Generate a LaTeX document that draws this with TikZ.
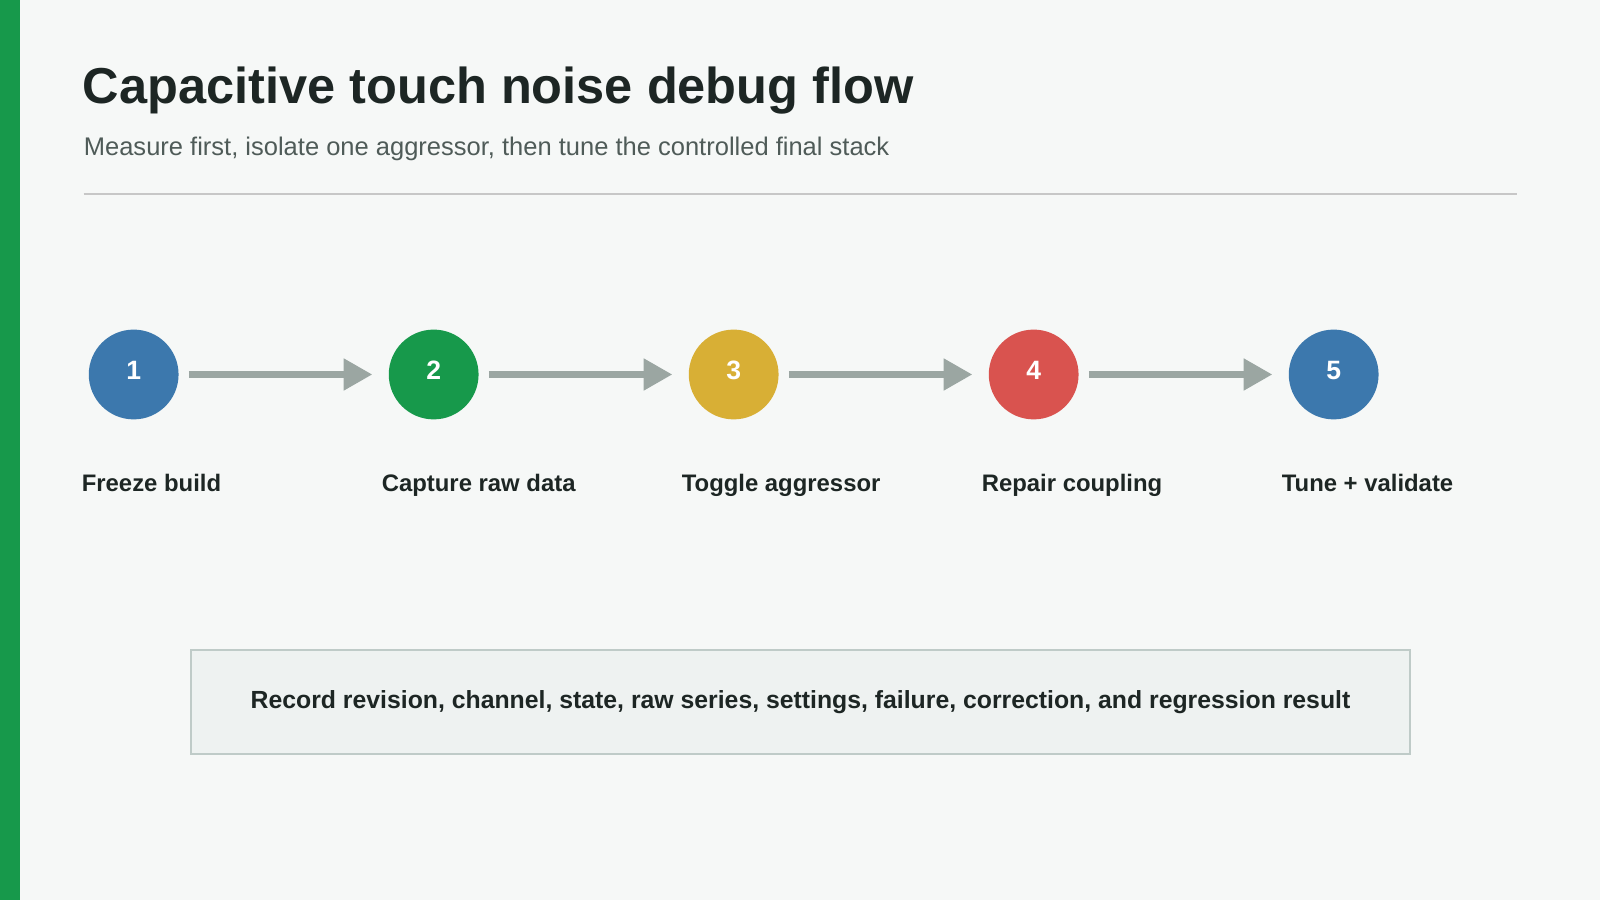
\documentclass[tikz,border=0pt]{standalone}
\usepackage{fontspec}
\setmainfont{Liberation Sans}
\usetikzlibrary{arrows.meta}
\definecolor{bg}{HTML}{F6F8F7}
\definecolor{bar}{HTML}{17994B}
\definecolor{cblue}{HTML}{3C78AD}
\definecolor{cgreen}{HTML}{17994B}
\definecolor{cyellow}{HTML}{D8AF35}
\definecolor{cred}{HTML}{D9534F}
\definecolor{arr}{HTML}{9BA6A2}
\definecolor{ink}{HTML}{1D2624}
\definecolor{sub}{HTML}{4F5B58}
\definecolor{boxfill}{HTML}{EEF2F1}
\definecolor{boxline}{HTML}{BFCBC8}
\tikzset{x=1pt,y=-1pt,
 stepnode/.style={circle,minimum size=88pt,inner sep=0pt,text=white,font=\bfseries\fontsize{26}{30}\selectfont},
 lab/.style={anchor=base west,text=ink,font=\bfseries\fontsize{23.4}{28}\selectfont},
 flow/.style={draw=arr,line width=6pt,-{Triangle[length=28pt,width=30pt]},shorten <=10pt,shorten >=16pt}}
\begin{document}
\begin{tikzpicture}
\useasboundingbox (0,0) rectangle (1568,882);
\fill[bg] (0,0) rectangle (1568,882);
\fill[bar] (0,0) rectangle (20,882);
\node[anchor=base west,inner sep=0,text=ink,font=\bfseries\fontsize{49.5}{56}\selectfont] (title) at (81,101) {Capacitive touch noise debug flow};
\node[anchor=base west,inner sep=0,text=sub,font=\fontsize{25}{29}\selectfont] (subt) at (82,152) {Measure first, isolate one aggressor, then tune the controlled final stack};
\draw[draw=black!22,line width=2pt] (82,190) -- (1487,190);
\foreach \i/\x/\c/\t in {1/131/cblue/Freeze build,2/425/cgreen/Capture raw data,3/719/cyellow/Toggle aggressor,4/1013/cred/Repair coupling,5/1307/cblue/Tune + validate}{
 \node[stepnode,fill=\c] (s\i) at (\x,367) {\raisebox{9pt}{\i}};
 \node[lab,inner sep=0] (l\i) at (\x-51,482) {\t};
}
\foreach \a/\b in {1/2,2/3,3/4,4/5} \draw[flow] (s\a) -- (s\b);
\node[draw=boxline,fill=boxfill,line width=1.5pt,minimum width=1195pt,minimum height=102pt,text=ink,font=\bfseries\fontsize{24.3}{28}\selectfont] (note) at (784.5,688) {Record revision, channel, state, raw series, settings, failure, correction, and regression result};
\end{tikzpicture}
\end{document}
